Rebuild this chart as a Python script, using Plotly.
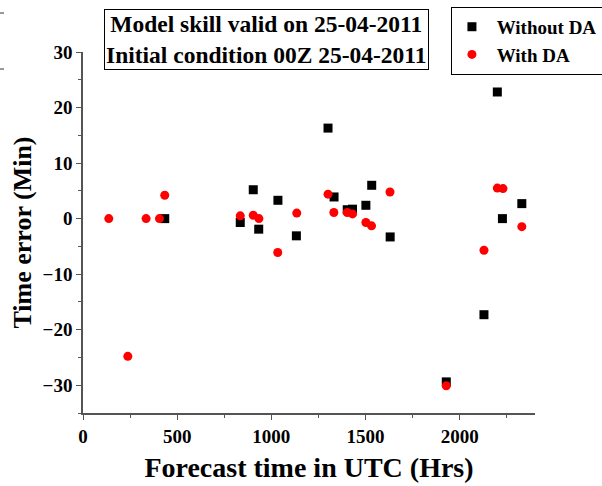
import plotly.graph_objects as go

# Without DA (black squares)
x_without = [434, 835, 904, 933, 1035, 1133, 1301, 1333, 1403, 1431, 1502, 1533, 1631, 1929, 2129, 2200, 2227, 2330]
y_without = [0, -0.7, 5.2, -1.9, 3.3, -3.1, 16.3, 3.9, 1.6, 1.7, 2.4, 6.0, -3.3, -29.4, -17.3, 22.8, 0, 2.7]

# With DA (red circles)
x_with = [137, 238, 335, 406, 434, 835, 904, 934, 1034, 1135, 1301, 1332, 1403, 1431, 1502, 1532, 1630, 1929, 2129, 2200, 2230, 2330]
y_with = [0, -24.8, 0, 0, 4.2, 0.5, 0.6, 0, -6.1, 1.0, 4.4, 1.1, 1.1, 0.85, -0.7, -1.3, 4.8, -30.1, -5.7, 5.5, 5.4, -1.45]

x_ticks = [0, 500, 1000, 1500, 2000]
y_ticks = [-30, -20, -10, 0, 10, 20, 30]

series_names = ["Without DA", "With DA"]
title_lines = ["Model skill valid on 25-04-2011", "Initial condition 00Z 25-04-2011"]
x_title = "Forecast time in UTC (Hrs)"
y_title = "Time error (Min)"

FONT = "Liberation Serif"
PAD = "\u00a0"

fig = go.Figure()
fig.add_trace(go.Scatter(x=x_without, y=y_without, mode="markers", name=PAD + series_names[0],
                         marker=dict(symbol="square", color="black", size=9)))
fig.add_trace(go.Scatter(x=x_with, y=y_with, mode="markers", name=PAD + series_names[1],
                         marker=dict(symbol="circle", color="#ff0000", size=9)))

axis_common = dict(
    showgrid=False, zeroline=False, showline=True, linecolor="#555555", linewidth=1.5,
    ticks="outside", ticklen=5, tickwidth=1.2, tickcolor="#555555", automargin=False,
    tickfont=dict(family=FONT, size=19, color="black", weight="bold"),
    minor=dict(ticks="outside", ticklen=3, tickwidth=1.2, tickcolor="#555555"),
)

fig.update_layout(
    width=602, height=486,
    margin=dict(l=83, r=67, t=52, b=73, autoexpand=False),
    paper_bgcolor="white", plot_bgcolor="white",
    xaxis=dict(range=[0, 2400], tickvals=x_ticks, minor_dtick=250,
               title=dict(text=x_title, font=dict(family=FONT, size=28, color="black", weight="bold"), standoff=12),
               **axis_common),
    yaxis=dict(range=[-35, 30], tickvals=y_ticks, minor_dtick=5,
               title=dict(text=y_title, font=dict(family=FONT, size=26, color="black", weight="bold"), standoff=4),
               **axis_common),
    legend=dict(x=0.814, y=1.125, xanchor="left", yanchor="top",
                bordercolor="black", borderwidth=1, bgcolor="white",
                font=dict(family=FONT, size=19, color="black", weight="bold"),
                itemwidth=30, tracegroupgap=0),
    showlegend=True,
)

fig.add_annotation(xref="paper", yref="paper", x=0.406, y=1.036, xanchor="center", yanchor="middle",
                   text="<br>".join(title_lines), showarrow=False, align="center",
                   font=dict(family=FONT, size=23.5, color="black", weight="bold"),
                   bordercolor="black", borderwidth=1, borderpad=1, bgcolor="white")

# small edge fragments visible at the left border of the reference image
for yy in (13, 69):
    fig.add_shape(type="line", xref="paper", yref="paper",
                  x0=-83 / 452, x1=-79 / 452, y0=(413 - yy) / 361, y1=(413 - yy) / 361,
                  line=dict(color="#333333", width=1))

fig.write_html("out.html")
